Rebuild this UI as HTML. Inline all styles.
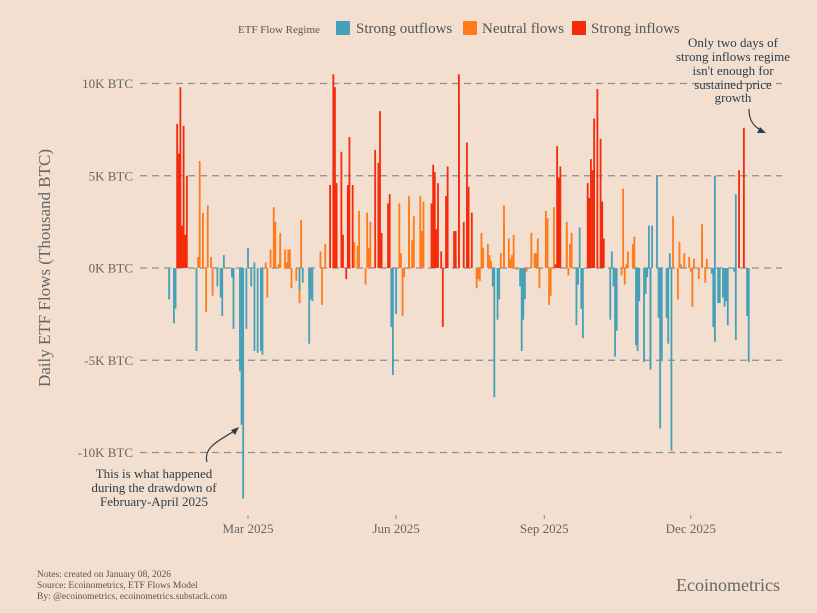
<!DOCTYPE html>
<html><head><meta charset="utf-8"><style>
html,body{margin:0;padding:0;background:#f2dfcf;}
svg{display:block;font-family:"Liberation Serif",serif;}
</style></head><body>
<svg id="chart" width="817" height="613" viewBox="0 0 817 613">
<rect x="0" y="0" width="817" height="613" fill="#f2dfcf"/>
<g id="legend">
<text x="238" y="33" font-size="11" fill="#555">ETF Flow Regime</text>
<rect x="336" y="21" width="14" height="14" fill="#45a0b8"/>
<text x="356" y="33" font-size="15" fill="#555">Strong outflows</text>
<rect x="463" y="21" width="14" height="14" fill="#ff7a1a"/>
<text x="482" y="33" font-size="15" fill="#555">Neutral flows</text>
<rect x="572" y="21" width="14" height="14" fill="#f52a0a"/>
<text x="591" y="33" font-size="15" fill="#555">Strong inflows</text>
</g>
<g id="grid"></g>
<g id="yticks"></g>
<g id="xticks"></g>
<g id="bars"></g>
<text transform="translate(50,268) rotate(-90)" text-anchor="middle" font-size="17" fill="#666">Daily ETF Flows (Thousand BTC)</text>
<g fill="#2e3d4a" font-size="13" text-anchor="middle">
<text x="154" y="478">This is what happened</text>
<text x="154" y="492">during the drawdown of</text>
<text x="154" y="506">February-April 2025</text>
<path d="M207,462 C203,447 220,440 236,430" stroke="#2e3d4a" stroke-width="1.2" fill="none"/>
<path d="M239,427 L231,430 L235,435 Z" fill="#2e3d4a"/>
</g>
<g fill="#2e3d4a" font-size="13" text-anchor="middle">
<text x="733" y="47">Only two days of</text>
<text x="733" y="61">strong inflows regime</text>
<text x="733" y="75">isn't enough for</text>
<text x="733" y="89">sustained price</text>
<text x="733" y="102">growth</text>
<path d="M749,109 C749,120 753,126 762,131" stroke="#2e3d4a" stroke-width="1.2" fill="none"/>
<path d="M766,133 L757,133 L760,127 Z" fill="#2e3d4a"/>
</g>
<g fill="#555" font-size="9.5">
<text x="37" y="577">Notes: created on January 08, 2026</text>
<text x="37" y="588">Source: Ecoinometrics, ETF Flows Model</text>
<text x="37" y="599">By: @ecoinometrics, ecoinometrics.substack.com</text>
</g>
<text x="780" y="591" text-anchor="end" font-size="18" fill="#666">Ecoinometrics</text>
</svg>
<script>
// day-of-year (0 = Jan 1, 2025), flow in thousand BTC, regime (0 outflows, 1 neutral, 2 inflows)
const days = [10,13,14,15,16,17,18,19,20,21,27,28,29,31,33,34,36,37,40,42,43,44,49,50,50,54,55,56,58,59,61,63,63,65,67,68,70,71,73,75,76,78,79,79,82,83,84,85,86,89,91,91,92,93,97,97,98,99,104,105,107,110,112,113,114,114,117,118,120,121,122,124,125,127,128,132,133,134,135,138,140,140,141,142,146,147,148,149,151,153,154,155,156,159,159,161,161,162,166,167,168,173,174,175,176,177,179,180,182,183,187,188,188,190,190,193,195,195,196,198,201,202,203,204,205,208,209,210,211,212,214,215,216,218,218,221,222,223,224,226,228,229,230,231,232,235,237,238,239,240,244,245,246,247,249,250,251,252,253,257,257,258,259,260,263,264,265,266,267,270,271,272,273,274,276,278,279,280,284,285,286,287,288,291,292,293,294,295,298,299,300,301,302,305,306,307,308,309,309,310,313,314,315,316,319,320,321,322,323,326,327,328,330,333,334,335,336,339,341,341,343,344,347,348,349,349,351,352,354,355,356,357,361,362,362,364,367,369,370];
const flows = [-1.7,-3,-2.2,7.8,6.2,9.8,2.3,7.7,1.8,5,-4.5,0.6,5.8,3,-2.4,3.4,0.6,-1.5,-1,-1.6,-2.6,0.7,-0.5,-0.6,-3.3,-5.6,-8.5,-12.5,-3.3,1.1,-1,0.3,-4.5,-4.6,-4.5,-4.7,0.3,-1.6,1,3.3,2.5,0.2,1.9,1,1,0.3,1,1,-1.1,-0.7,-1.9,-1.2,2.6,-0.8,-1.2,-4.1,-1.7,-1.8,0.9,-2,1.3,4.5,10.5,9.8,4.6,4,6.3,1.8,-0.6,4.5,7.1,4.5,1.4,1.2,3.1,-0.9,3,1.1,2.5,6.4,3.1,5.7,8.5,1.9,3.5,4,-3.2,-5.8,-2.5,3.5,0.8,-2.6,-0.5,3.2,3.9,1.5,0.8,2.8,3.9,2,3.6,3.5,5.6,5.2,2.1,4.6,0.9,-3.2,3.9,5.5,2,0.8,2,10.5,8.9,2.5,3.4,6.8,4.4,3,-1.1,-0.6,-0.7,1.9,1.1,1.3,0.7,0.4,-1,-7,-2.8,-1.7,0.8,2.4,3.4,1.6,0.5,0.7,1.8,-0.1,-1,-4.5,-2.8,-1.7,-0.2,1.9,0.8,0.8,1.6,-1.1,3.1,2.7,-2,-1.5,3.3,0.2,6.6,4.9,5.5,2.2,2.5,-0.4,1.3,1.9,-3.1,-0.9,2.2,-2.2,-3.8,4.6,3.8,5.9,5.3,8.1,9.7,7,3.6,1.6,-2.8,0.9,-1,-4.8,-3.4,-0.4,4.3,-0.9,0.2,0.9,1.3,1.7,-4.2,-4.5,-1.8,-5.1,-1.4,-0.5,2.3,-5.4,-5.5,2.3,5,-2.7,-8.7,-5,-2.7,-4.1,0.8,-9.9,2.8,-1.7,1.4,0.2,0.8,0.6,-0.2,-2.1,0.5,-0.6,1.6,2.4,-0.8,0.5,-0.3,-3.2,-4,5,-1.9,-1.9,-1.6,-2.1,-1.8,-3.1,-0.2,4,-3.9,5.3,7.6,-2.6,-5.1];
const regimes = [0,0,0,2,2,2,2,2,2,2,0,1,1,1,1,1,1,1,0,0,0,0,0,0,0,0,0,0,0,0,0,0,0,0,0,0,1,1,1,1,1,1,1,1,1,1,1,1,1,1,1,0,1,0,0,0,0,0,1,1,1,2,2,2,2,2,2,2,2,2,2,2,1,1,1,1,1,1,1,2,2,2,2,2,2,2,0,0,0,1,1,1,1,1,1,1,1,1,1,1,1,2,2,2,2,2,2,2,2,2,2,2,2,2,2,2,2,2,2,2,1,1,1,1,1,1,1,1,0,0,0,0,1,1,1,1,1,1,1,1,0,0,0,0,1,1,1,1,1,1,1,1,1,1,1,2,2,2,2,1,1,1,1,1,0,0,0,0,0,2,2,2,2,2,2,2,2,2,0,0,0,0,0,1,1,1,1,1,1,1,0,0,0,0,0,0,0,0,0,0,0,0,0,0,0,0,0,0,1,1,1,1,1,1,1,1,1,1,1,1,1,1,0,0,0,0,0,0,0,0,0,0,0,0,0,2,2,0,0];
const yTicks = [10,5,0,-5,-10];
const yTickLabels = ["10K BTC","5K BTC","0K BTC","-5K BTC","-10K BTC"];
const xTickDays = [59,151,243,334];
const xTickLabels = ["Mar 2025","Jun 2025","Sep 2025","Dec 2025"];
const colors = ["#45a0b8","#ff7a1a","#f52a0a"];
const NS="http://www.w3.org/2000/svg";
function xScale(d){return 248+(d-59)*1.61;}
function yScale(v){return 268-v*18.45;}
const grid=document.getElementById('grid'), yt=document.getElementById('yticks'), xt=document.getElementById('xticks'), bars=document.getElementById('bars');
yTicks.forEach((t,i)=>{
  const l=document.createElementNS(NS,'line');
  l.setAttribute('x1',140);l.setAttribute('x2',782);l.setAttribute('y1',yScale(t));l.setAttribute('y2',yScale(t));
  l.setAttribute('stroke','#8a8f90');l.setAttribute('stroke-width','1.2');l.setAttribute('stroke-dasharray','7,5');
  
  
  grid.appendChild(l);
  const tx=document.createElementNS(NS,'text');
  tx.setAttribute('x',133);tx.setAttribute('y',yScale(t)+4.5);tx.setAttribute('text-anchor','end');
  tx.setAttribute('font-size','13');tx.setAttribute('fill','#666');tx.textContent=yTickLabels[i];
  
  
  yt.appendChild(tx);
});
xTickDays.forEach((d,i)=>{
  const l=document.createElementNS(NS,'line');
  l.setAttribute('x1',xScale(d));l.setAttribute('x2',xScale(d));l.setAttribute('y1',515);l.setAttribute('y2',519);
  l.setAttribute('stroke','#888');l.setAttribute('stroke-width','1');
  
  
  xt.appendChild(l);
  const tx=document.createElementNS(NS,'text');
  tx.setAttribute('x',xScale(d));tx.setAttribute('y',533);tx.setAttribute('text-anchor','middle');
  tx.setAttribute('font-size','13');tx.setAttribute('fill','#666');tx.textContent=xTickLabels[i];
  
  
  xt.appendChild(tx);
});
days.forEach((d,i)=>{
  const v=flows[i];
  const r=document.createElementNS(NS,'rect');
  const y0=yScale(0), y1=yScale(v);
  r.setAttribute('x',xScale(d)-0.9);r.setAttribute('width',1.8);
  r.setAttribute('y',Math.min(y0,y1));r.setAttribute('height',Math.max(0.5,Math.abs(y1-y0)));
  r.setAttribute('fill',colors[regimes[i]]);
  
  
  bars.appendChild(r);
});
</script>
</body></html>
